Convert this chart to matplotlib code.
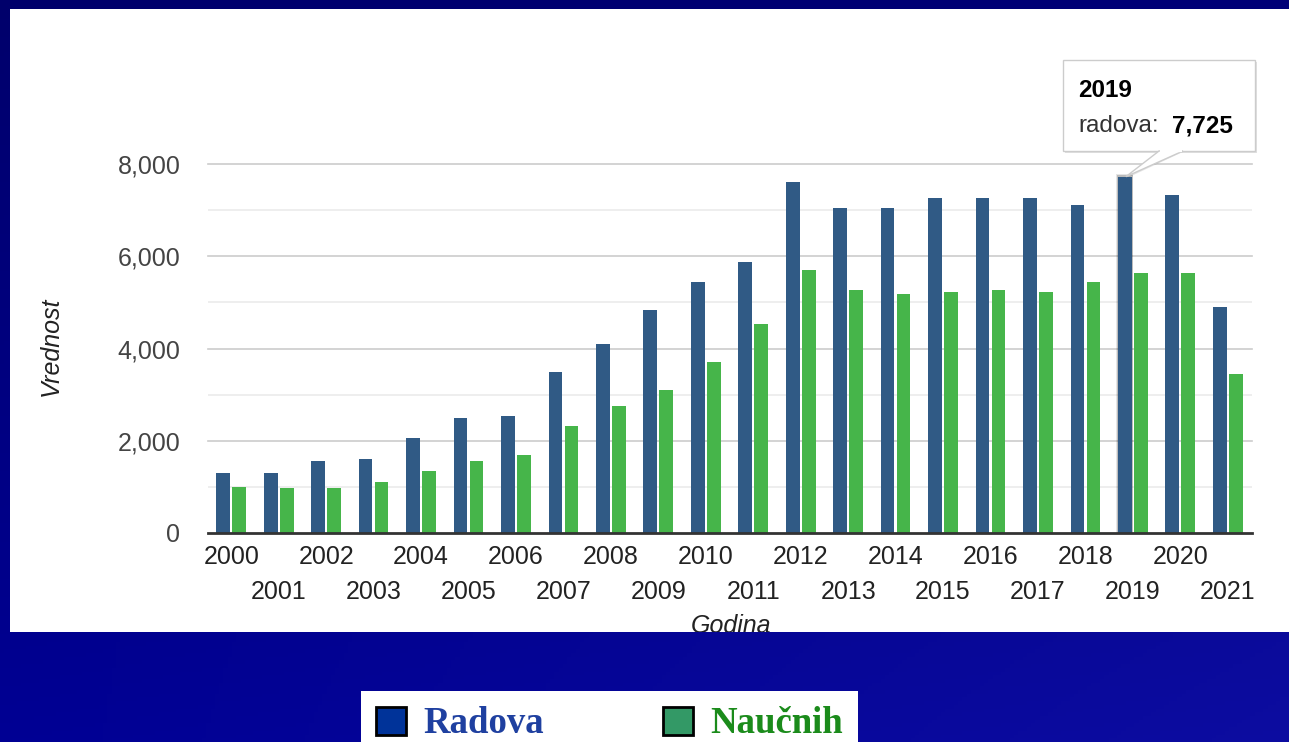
import numpy as np
import matplotlib
matplotlib.use('Agg')
import matplotlib.pyplot as plt
from matplotlib.patches import Rectangle, Polygon, Patch

# ---------------- data ----------------
years = list(range(2000, 2022))
radova = [1310, 1310, 1570, 1615, 2050, 2485, 2530, 3485, 4095, 4835, 5440,
          5875, 7615, 7050, 7050, 7265, 7265, 7265, 7110, 7725, 7325, 4890]
naucnih = [1005, 965, 965, 1095, 1355, 1570, 1700, 2310, 2745, 3095, 3700,
           4530, 5705, 5270, 5180, 5225, 5270, 5225, 5450, 5630, 5630, 3440]
y_major = [0, 2000, 4000, 6000, 8000]
y_minor = [1000, 3000, 5000, 7000]
series_names = ['Radova', 'Naučnih']
tooltip_year = 2019
x_title = 'Godina'
y_title = 'Vrednost'

# ---------------- style ----------------
plt.rcParams['font.family'] = ['Liberation Sans', 'DejaVu Sans']
BLUE = '#305a85'
GREEN = '#46b54a'
W, H = 1289, 742

fig = plt.figure(figsize=(W / 100, H / 100), dpi=100)

# background gradient
bg = fig.add_axes([0, 0, 1, 1], zorder=-10)
yy = np.linspace(0, 1, 200)[:, None]
xx = np.linspace(0, 1, 300)[None, :]
bch = 0.42 + 0.16 * yy + 0.05 * xx
rg = 0.05 * xx * yy
img = np.dstack([rg + 0 * bch, rg + 0 * bch, bch])
bg.imshow(img, aspect='auto', extent=[0, 1, 0, 1], origin='upper')
bg.set_xlim(0, 1); bg.set_ylim(0, 1)
bg.axis('off')

# white panel
panel = fig.add_axes([10 / W, (H - 632) / H, (W - 10) / W, 623 / H], zorder=-5)
panel.add_patch(Rectangle((0, 0), 1, 1, transform=panel.transAxes,
                          facecolor='white', edgecolor='none'))
panel.axis('off')
gt = panel.text(731 / W, (H - 633) / H, x_title, transform=fig.transFigure,
                ha='center', va='baseline', fontsize=18, style='italic',
                color='#222222', clip_on=True)
gt.set_clip_box(panel.bbox)

# main axes
ax = fig.add_axes([207.5 / W, (H - 533) / H, 1044 / W, 369 / H], zorder=0)
ax.set_facecolor('none')
x = np.arange(len(years))
bw = 0.29
off = 0.168

idx = years.index(tooltip_year)
# highlight shadow for hovered bar
for extra, al in [(0.07, 0.10), (0.04, 0.18)]:
    ax.bar(x[idx] - off, radova[idx] + extra * 900, width=bw + extra,
           color='black', alpha=al, zorder=1.5, linewidth=0)

ax.bar(x - off, radova, width=bw, color=BLUE, zorder=2, linewidth=0)
ax.bar(x + off, naucnih, width=bw, color=GREEN, zorder=2, linewidth=0)

ax.set_xlim(-0.5, len(years) - 0.5)
ax.set_ylim(0, 8000)
for v in y_major[1:]:
    ax.axhline(v, color='#cccccc', lw=1.2, zorder=0.5, clip_on=False)
for v in y_minor:
    ax.axhline(v, color='#ebebeb', lw=1.2, zorder=0.5)
ax.axhline(0, color='#333333', lw=2, zorder=3, clip_on=False)

ax.set_yticks(y_major)
ax.set_yticklabels([f'{v:,}' for v in y_major])
ax.tick_params(axis='y', length=0, pad=19.5, labelsize=18, labelcolor='#444444')

even = [i for i in x if i % 2 == 0]
odd = [i for i in x if i % 2 == 1]
ax.set_xticks(even)
ax.set_xticklabels([str(years[i]) for i in even])
ax.set_xticks(odd, minor=True)
ax.set_xticklabels([str(years[i]) for i in odd], minor=True)
ax.tick_params(axis='x', which='major', length=0, pad=9, labelsize=18,
               labelcolor='#222222')
ax.tick_params(axis='x', which='minor', length=0, pad=33.5, labelsize=18,
               labelcolor='#222222')
for s in ax.spines.values():
    s.set_visible(False)

fig.text(51 / W, (H - 346) / H, y_title, rotation=90, ha='center', va='center',
         fontsize=18, style='italic', color='#222222')

# overlay (tooltip) in pixel coordinates
ov = fig.add_axes([0, 0, 1, 1], zorder=5)
ov.set_xlim(0, W); ov.set_ylim(H, 0)
ov.axis('off')
fig.canvas.draw()
tip_disp = ax.transData.transform((x[idx] - off + 0.02, radova[idx]))
tip = ov.transData.inverted().transform(tip_disp)

bx0, by0, bx1, by1 = 1063, 60, 1255, 151
ov.add_patch(Rectangle((bx0 + 2, by0 + 2), bx1 - bx0, by1 - by0,
                       facecolor='#000000', alpha=0.12, edgecolor='none'))
ov.add_patch(Polygon([(1159 + 2, by1), (1183 + 2, by1), (tip[0] + 2, tip[1] + 1)],
                     closed=True, facecolor='#000000', alpha=0.10, edgecolor='none'))
ov.add_patch(Rectangle((bx0, by0), bx1 - bx0, by1 - by0,
                       facecolor='white', edgecolor='#cccccc', lw=1))
ov.add_patch(Polygon([(1159, by1), (1183, by1), (tip[0], tip[1])],
                     closed=True, facecolor='white', edgecolor='#cccccc', lw=1))
ov.plot([1159.8, 1182.2], [by1, by1], color='white', lw=1.6, solid_capstyle='butt')

ov.text(1078, 97, str(tooltip_year), fontsize=17.5, fontweight='bold',
        color='black', ha='left', va='baseline')
ov.text(1078, 132, 'radova:', fontsize=17.5, color='#333333',
        ha='left', va='baseline')
ov.text(1172, 132, f'{radova[idx]:,}', fontsize=17.5, fontweight='bold',
        color='black', ha='left', va='baseline')

# bottom legend
handles = [Patch(facecolor='#003399', edgecolor='black', lw=2),
           Patch(facecolor='#339966', edgecolor='black', lw=2)]
leg = fig.legend(handles, series_names, ncol=2, loc='upper left',
                 bbox_to_anchor=(361 / W, (H - 691) / H),
                 bbox_transform=fig.transFigure,
                 prop={'family': 'Liberation Serif', 'weight': 'bold', 'size': 26.5},
                 labelcolor=['#1f40a0', '#1b8b1b'],
                 frameon=True, fancybox=False, framealpha=1, facecolor='white',
                 edgecolor='none', borderpad=0.42, borderaxespad=0,
                 handlelength=0.815, handleheight=0.8, handletextpad=0.45,
                 columnspacing=3.25)

fig.savefig('out.png', dpi=100)
